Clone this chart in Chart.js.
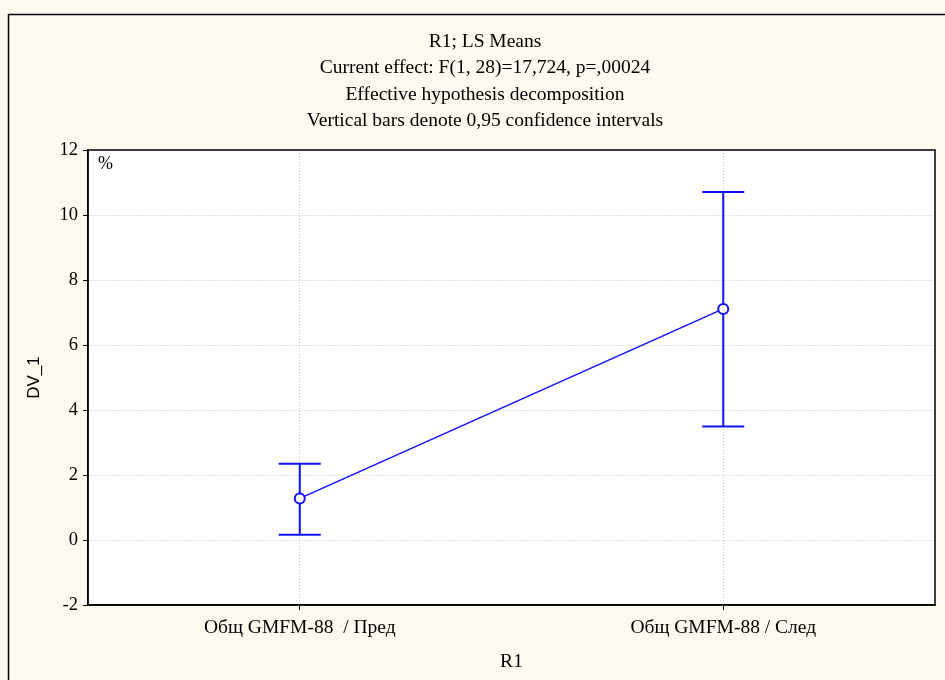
<!DOCTYPE html>
<html>
<head>
<meta charset="utf-8">
<script src="https://cdn.jsdelivr.net/npm/chart.js@4.4.1/dist/chart.umd.min.js"></script>
<style>
  html, body { margin: 0; padding: 0; background: #fdf9ef; }
  #wrap { width: 945px; height: 680px; position: relative; }
</style>
</head>
<body>
<div id="wrap"><canvas id="lsChart" width="945" height="680"></canvas></div>
<script>
// data
const categories = ['Общ GMFM-88  / Пред', 'Общ GMFM-88 / След'];
const means = [1.28, 7.11];
const ciLow = [0.16, 3.49];
const ciHigh = [2.35, 10.71];
const titleLines = [
    'R1; LS Means',
    'Current effect: F(1, 28)=17,724, p=,00024',
    'Effective hypothesis decomposition',
    'Vertical bars denote 0,95 confidence intervals'
];

const blue = '#1010ff';
const serif = "'Liberation Serif', 'Times New Roman', serif";

// cream page, white plot area, frame lines, title, "%" label
const framePlugin = {
    id: 'frame',
    beforeDraw(chart) {
        const {ctx, chartArea: a} = chart;
        ctx.save();
        ctx.fillStyle = '#fdf9ef';
        ctx.fillRect(0, 0, chart.width, chart.height);
        ctx.fillStyle = '#ffffff';
        ctx.fillRect(a.left, a.top, a.right - a.left, a.bottom - a.top);
        ctx.strokeStyle = '#000';
        ctx.lineWidth = 1.5;
        ctx.beginPath();
        ctx.moveTo(8.5, chart.height);
        ctx.lineTo(8.5, 14.5);
        ctx.lineTo(chart.width, 14.5);
        ctx.stroke();

        // title block, centred on the outer frame
        ctx.fillStyle = '#000';
        ctx.font = '19.5px ' + serif;
        ctx.textAlign = 'center';
        ctx.textBaseline = 'middle';
        const rows = [42, 68, 95, 121];
        titleLines.forEach((t, i) => ctx.fillText(t, 485, rows[i]));
        ctx.restore();
    },
    afterDraw(chart) {
        const {ctx, chartArea: a} = chart;
        ctx.save();
        ctx.strokeStyle = '#000';
        ctx.lineWidth = 1.5;
        ctx.strokeRect(a.left, a.top, a.right - a.left, a.bottom - a.top);
        ctx.fillStyle = '#000';
        ctx.font = '18px ' + serif;
        ctx.textBaseline = 'middle';
        ctx.fillText('%', a.left + 10, a.top + 14);
        ctx.restore();
    }
};

// confidence interval whiskers
const errorBarPlugin = {
    id: 'errorBars',
    beforeDatasetsDraw(chart) {
        const {ctx} = chart;
        const yScale = chart.scales.y;
        const meta = chart.getDatasetMeta(0);
        ctx.save();
        ctx.strokeStyle = blue;
        ctx.lineWidth = 2;
        meta.data.forEach((pt, i) => {
            const x = pt.x;
            const yLo = yScale.getPixelForValue(ciLow[i]);
            const yHi = yScale.getPixelForValue(ciHigh[i]);
            ctx.beginPath();
            ctx.moveTo(x, yLo);
            ctx.lineTo(x, yHi);
            ctx.moveTo(x - 21, yLo);
            ctx.lineTo(x + 21, yLo);
            ctx.moveTo(x - 21, yHi);
            ctx.lineTo(x + 21, yHi);
            ctx.stroke();
        });
        ctx.restore();
    }
};

const ctx = document.getElementById('lsChart').getContext('2d');
const lsChart = new Chart(ctx, {
    type: 'line',
    data: {
        labels: categories,
        datasets: [{
            data: means,
            borderColor: blue,
            borderWidth: 1.5,
            backgroundColor: '#ffffff',
            pointBackgroundColor: '#ffffff',
            pointBorderColor: blue,
            pointBorderWidth: 2,
            pointRadius: 5,
            tension: 0,
            fill: false
        }]
    },
    options: {
        responsive: false,
        animation: false,
        layout: { padding: { top: 150, right: 10, bottom: 0, left: 0 } },
        plugins: {
            legend: { display: false },
            tooltip: { enabled: false },
            title: { display: false }
        },
        scales: {
            x: {
                type: 'category',
                offset: true,
                afterFit(scale) { scale.height = 75; },
                grid: {
                    color: '#c4c4c4',
                    lineWidth: 1,
                    tickColor: '#000',
                    tickLength: 5,
                    offset: false
                },
                border: { display: true, color: '#000', width: 1.5, dash: [1, 2] },
                ticks: {
                    color: '#000',
                    font: { family: serif, size: 19.5 },
                    padding: 6,
                    maxRotation: 0
                },
                title: {
                    display: true,
                    text: 'R1',
                    color: '#000',
                    font: { family: serif, size: 19.5 },
                    padding: { top: 0, bottom: 6 }
                }
            },
            y: {
                min: -2,
                max: 12,
                afterFit(scale) { scale.width = 88; },
                grid: {
                    color: '#c4c4c4',
                    lineWidth: 1,
                    tickColor: '#000',
                    tickLength: 5
                },
                border: { display: true, color: '#000', width: 1.5, dash: [1, 2] },
                ticks: {
                    stepSize: 2,
                    color: '#000',
                    font: { family: serif, size: 18.5 },
                    padding: 5
                },
                title: {
                    display: true,
                    text: 'DV_1',
                    color: '#000',
                    font: { family: "'Liberation Sans', Arial, sans-serif", size: 17 },
                    padding: { top: 24, bottom: 0 }
                }
            }
        }
    },
    plugins: [framePlugin, errorBarPlugin]
});
</script>
</body>
</html>
